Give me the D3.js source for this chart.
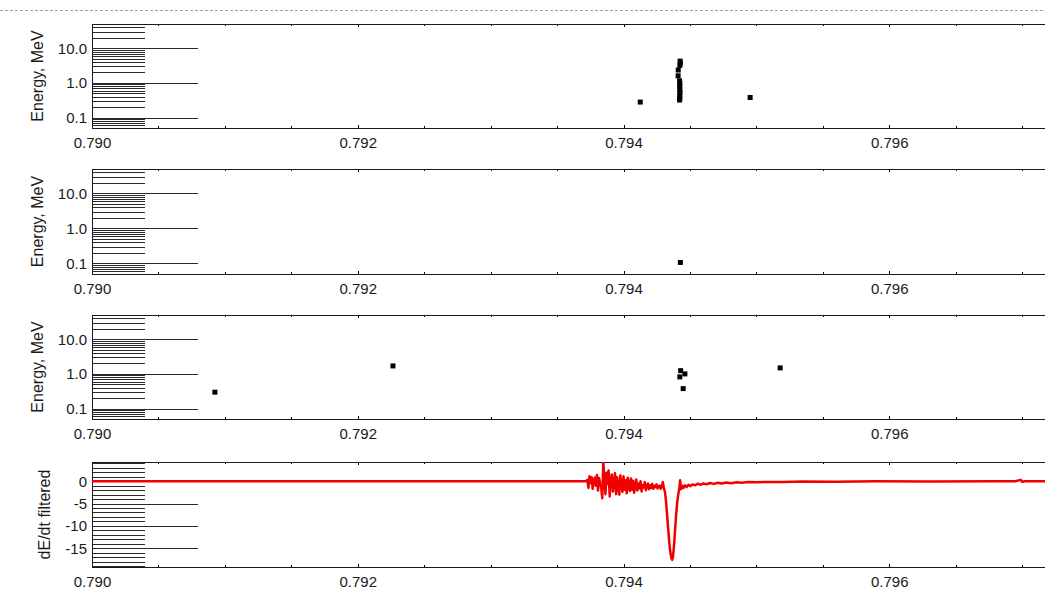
<!DOCTYPE html>
<html>
<head>
<meta charset="utf-8">
<script src="https://cdn.jsdelivr.net/npm/d3@7"></script>
<style>
  html, body { margin: 0; padding: 0; background: #fff; overflow: hidden; }
  svg { display: block; }
  text { font-family: "Liberation Sans", Arial, Helvetica, sans-serif; fill: #1a1a1a; }
</style>
</head>
<body>
<script>
// ---- time axis (seconds) ----
const timeDomain = [0.790, 0.798];
const timeTicks = [0.790, 0.792, 0.794, 0.796];
const timeTickLabels = ["0.790", "0.792", "0.794", "0.796"];
const timeMinorTicks = [0.7905, 0.791, 0.7915, 0.7925, 0.793, 0.7935, 0.7945, 0.795, 0.7955, 0.7965, 0.797, 0.7975];

// ---- energy axis (MeV, log) ----
const energyDomain = [0.05, 50];
const energyTicks = [0.1, 1, 10];
const energyTickLabels = ["0.1", "1.0", "10.0"];
const energyMinorTicks = [0.05, 0.06, 0.07, 0.08, 0.09, 0.2, 0.3, 0.4, 0.5, 0.6, 0.7, 0.8, 0.9,
                          2, 3, 4, 5, 6, 7, 8, 9, 20, 30, 40];

// ---- dE/dt axis ----
const dEdtDomain = [-19.2, 4.3];
const dEdtTicks = [-15, -10, -5, 0];
const dEdtTickLabels = ["-15", "-10", "-5", "0"];
const dEdtMinorTicks = [-19, -18, -17, -16, -14, -13, -12, -11, -9, -8, -7, -6, -4, -3, -2, -1, 1, 2, 3, 4];

// ---- detected events, channel 1 ----
const channel1Time   = [0.794126, 0.794426, 0.794428, 0.794424, 0.794412, 0.794411, 0.794422, 0.794424,
                        0.794423, 0.794424, 0.794425, 0.794423, 0.794424, 0.794422, 0.794953];
const channel1Energy = [0.28, 4.25, 3.75, 3.2, 2.35, 1.6, 1.15, 0.95,
                        0.78, 0.64, 0.53, 0.44, 0.36, 0.32, 0.38];

// ---- detected events, channel 2 ----
const channel2Time   = [0.794428];
const channel2Energy = [0.107];

// ---- detected events, channel 3 ----
const channel3Time   = [0.790925, 0.792265, 0.794430, 0.794462, 0.794424, 0.794449, 0.795179];
const channel3Energy = [0.297, 1.70, 1.24, 1.0, 0.82, 0.377, 1.49];

// ---- filtered dE/dt waveform ----
const dEdtTime = [
  0.790000, 0.793720, 0.793728, 0.793736, 0.793744, 0.793752, 0.793760, 0.793768, 0.793776, 0.793784,
  0.793792, 0.793800, 0.793808, 0.793816, 0.793824, 0.793832, 0.793840, 0.793848, 0.793856, 0.793864,
  0.793872, 0.793880, 0.793888, 0.793896, 0.793904, 0.793912, 0.793920, 0.793928, 0.793936, 0.793944,
  0.793952, 0.793960, 0.793968, 0.793976, 0.793984, 0.793992, 0.794000, 0.794008, 0.794016, 0.794024,
  0.794032, 0.794040, 0.794048, 0.794056, 0.794064, 0.794072, 0.794080, 0.794088, 0.794096, 0.794104,
  0.794112, 0.794120, 0.794128, 0.794136, 0.794144, 0.794152, 0.794160, 0.794168, 0.794176, 0.794184,
  0.794192, 0.794200, 0.794208, 0.794216, 0.794224, 0.794232, 0.794240, 0.794248, 0.794256, 0.794264,
  0.794272, 0.794280, 0.794288, 0.794296, 0.794304, 0.794312, 0.794320, 0.794328, 0.794336, 0.794344,
  0.794352, 0.794360, 0.794366, 0.794372, 0.794380, 0.794388, 0.794396, 0.794404, 0.794412, 0.794420,
  0.794426, 0.794434, 0.794442, 0.794452, 0.794464, 0.794476, 0.794490, 0.794505, 0.794520, 0.794540,
  0.794560, 0.794580, 0.794600, 0.794625, 0.794650, 0.794680, 0.794710, 0.794740, 0.794775, 0.794810,
  0.794850, 0.794890, 0.794940, 0.795000, 0.795080, 0.795200, 0.795350, 0.795600, 0.795900, 0.796300,
  0.796800, 0.796950, 0.796990, 0.797000, 0.797020, 0.798000
];
const dEdtValue = [
  0.0, 0.0, 0.3, -1.5, 1.1, -0.4, 0.9, -1.7, 0.2, 0.8,
  -1.0, 1.4, -2.1, 0.7, -0.5, -1.4, -3.8, 4.3, 0.8, -2.9,
  1.9, -0.6, 2.4, -3.4, 0.3, 1.5, -2.3, -0.4, 1.8, -2.9,
  0.9, -1.2, -3.0, 1.3, -0.8, -2.4, 1.1, -1.9, 0.2, -2.7,
  0.8, -1.2, -2.2, 0.6, -1.9, 0.1, -2.6, -0.8, 0.4, -2.1,
  -0.5, -1.6, 0.0, -2.3, -0.9, -1.4, -0.2, -2.0, -1.1, -0.5,
  -1.8, -0.9, -1.5, -0.6, -1.7, -1.0, -1.3, -0.7, -1.6, -1.2,
  -1.0, -1.7, -1.2, -0.2, -1.6, -2.4, -4.5, -7.5, -10.5, -13.5,
  -15.8, -17.2, -17.6, -17.0, -14.5, -11.0, -7.5, -4.8, -3.0, -1.5,
  0.2, -1.8, -1.0, -1.5, -0.9, -1.3, -0.8, -1.1, -0.7, -0.9,
  -0.55, -0.8, -0.5, -0.7, -0.4, -0.6, -0.35, -0.5, -0.3, -0.45,
  -0.25, -0.35, -0.2, -0.25, -0.15, -0.18, -0.08, -0.1, -0.03, -0.05,
  0.0, 0.0, 0.3, -0.1, 0.0, 0.0
];

// ---- layout ----
const W = 1160, H = 590;
const left = 92;
const plotRight = 1155;
const panels = [
  { top: 24,  bottom: 128, kind: "energy", time: channel1Time, energy: channel1Energy, titleX: 43 },
  { top: 169, bottom: 274, kind: "energy", time: channel2Time, energy: channel2Energy, titleX: 43 },
  { top: 315, bottom: 419, kind: "energy", time: channel3Time, energy: channel3Energy, titleX: 43 },
  { top: 462, bottom: 567, kind: "dedt", titleX: 50 }
];

const svg = d3.select("body").append("svg").attr("width", W).attr("height", H);

// dashed separator along the top
svg.append("line")
  .attr("x1", 0).attr("x2", W).attr("y1", 10.5).attr("y2", 10.5)
  .attr("stroke", "#a0a0a0").attr("stroke-width", 1).attr("stroke-dasharray", "3,2");

const x = d3.scaleLinear().domain(timeDomain).range([left, plotRight]);
const fontFamily = '"Liberation Sans", Arial, Helvetica, sans-serif';

panels.forEach((p) => {
  const g = svg.append("g");
  const isEnergy = p.kind === "energy";
  const y = isEnergy
    ? d3.scaleLog().domain(energyDomain).range([p.bottom, p.top])
    : d3.scaleLinear().domain(dEdtDomain).range([p.bottom, p.top]);

  const majorVals = isEnergy ? energyTicks : dEdtTicks;
  const majorLabels = isEnergy ? energyTickLabels : dEdtTickLabels;
  const minorVals = isEnergy ? energyMinorTicks : dEdtMinorTicks;

  // long minor ticks reaching into the plot
  const minorAxis = d3.axisLeft(y).tickValues(minorVals).tickSize(-53).tickFormat("");
  const gMinor = g.append("g").attr("transform", `translate(${left},0)`).call(minorAxis);
  gMinor.select(".domain").remove();
  gMinor.selectAll("line").attr("stroke", "#2a2a2a").attr("stroke-width", 1);

  // major ticks with labels
  const majorAxis = d3.axisLeft(y).tickValues(majorVals).tickSize(-106).tickPadding(5)
    .tickFormat((d, k) => majorLabels[k]);
  const gMajor = g.append("g").attr("transform", `translate(${left},0)`).call(majorAxis);
  gMajor.select(".domain").remove();
  gMajor.selectAll("line").attr("stroke", "#2a2a2a").attr("stroke-width", 1);
  gMajor.selectAll("text").attr("font-size", 15).attr("fill", "#1a1a1a").style("font-family", fontFamily);

  // time axis: bottom with labels, top without, short inward ticks
  const xMajorB = d3.axisBottom(x).tickValues(timeTicks).tickSize(-3).tickPadding(9.5)
    .tickFormat((d, k) => timeTickLabels[k]);
  const gxB = g.append("g").attr("transform", `translate(0,${p.bottom})`).call(xMajorB);
  gxB.select(".domain").remove();
  gxB.selectAll("text").attr("font-size", 15).attr("fill", "#1a1a1a").style("font-family", fontFamily);
  const xMinorB = d3.axisBottom(x).tickValues(timeMinorTicks).tickSize(-2).tickFormat("");
  g.append("g").attr("transform", `translate(0,${p.bottom})`).call(xMinorB).select(".domain").remove();

  const xMajorT = d3.axisTop(x).tickValues(timeTicks).tickSize(-3).tickFormat("");
  g.append("g").attr("transform", `translate(0,${p.top})`).call(xMajorT).select(".domain").remove();
  const xMinorT = d3.axisTop(x).tickValues(timeMinorTicks).tickSize(-2).tickFormat("");
  g.append("g").attr("transform", `translate(0,${p.top})`).call(xMinorT).select(".domain").remove();
  g.selectAll("line").attr("shape-rendering", "crispEdges");

  // frame
  g.append("rect")
    .attr("x", left + 0.5).attr("y", p.top + 0.5)
    .attr("width", plotRight - left).attr("height", p.bottom - p.top)
    .attr("fill", "none").attr("stroke", "#1a1a1a").attr("stroke-width", 1);

  // y title
  g.append("text")
    .attr("transform", `translate(${p.titleX},${(p.top + p.bottom) / 2}) rotate(-90)`)
    .attr("text-anchor", "middle").attr("font-size", 16)
    .text(isEnergy ? "Energy, MeV" : "dE/dt filtered");

  if (isEnergy) {
    const pts = p.time.map((t, k) => ({ t, e: p.energy[k] }));
    g.selectAll("rect.hit").data(pts).enter().append("rect")
      .attr("class", "hit")
      .attr("x", d => x(d.t) - 2.5).attr("y", d => y(d.e) - 2.5)
      .attr("width", 5).attr("height", 5).attr("fill", "#000");
  } else {
    const clipId = "clip-dedt";
    svg.append("clipPath").attr("id", clipId).append("rect")
      .attr("x", left).attr("y", p.top).attr("width", plotRight - left).attr("height", p.bottom - p.top);
    const line = d3.line().x((d, k) => x(dEdtTime[k])).y(d => y(d));
    g.append("path").datum(dEdtValue)
      .attr("clip-path", `url(#${clipId})`)
      .attr("d", line).attr("fill", "none")
      .attr("stroke", "#f00000").attr("stroke-width", 2.5).attr("stroke-linejoin", "round");
  }
});
</script>
</body>
</html>
